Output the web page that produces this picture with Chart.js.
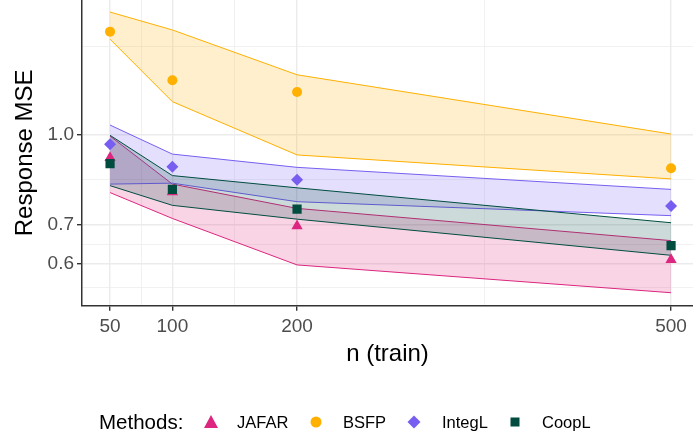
<!DOCTYPE html>
<html>
<head>
<meta charset="utf-8">
<script src="https://cdn.jsdelivr.net/npm/chart.js@4/dist/chart.umd.min.js"></script>
<style>
  body { margin: 0; background: #fff; }
  #wrap { position: relative; width: 693px; height: 438px; overflow: hidden; font-family: "Liberation Sans", Arial, sans-serif; }
  #chart { position: absolute; left: 0; top: 0; }
  .lg { position: absolute; color: #000; white-space: nowrap; line-height: 24px; height: 24px; }
  .mk { position: absolute; }
</style>
</head>
<body>
<div id="wrap">
  <canvas id="chart" width="693" height="438"></canvas>
  <div class="lg" style="left:99px; top:410px; font-size:20.5px;">Methods:</div>
  <svg class="mk" style="left:203px; top:414px;" width="16" height="16"><polygon points="8,1 15,14 1,14" fill="#DC267F"/></svg>
  <div class="lg" style="left:237px; top:410px; font-size:16.5px;">JAFAR</div>
  <svg class="mk" style="left:308px; top:414px;" width="16" height="16"><circle cx="8" cy="8" r="5.5" fill="#FFB000"/></svg>
  <div class="lg" style="left:343px; top:410px; font-size:16.5px;">BSFP</div>
  <svg class="mk" style="left:406px; top:414px;" width="16" height="16"><polygon points="8,1.5 14.5,8 8,14.5 1.5,8" fill="#785EF0"/></svg>
  <div class="lg" style="left:442px; top:410px; font-size:16.5px;">IntegL</div>
  <svg class="mk" style="left:507px; top:414px;" width="16" height="16"><rect x="3.5" y="3.5" width="9" height="9" fill="#004D40"/></svg>
  <div class="lg" style="left:542px; top:410px; font-size:16.5px;">CoopL</div>
</div>
<script>
const nTrain = [50, 100, 200, 500];

const jafarMean = [0.912, 0.797, 0.697, 0.610];
const jafarLow = [0.795, 0.718, 0.598, 0.536];
const jafarHigh = [0.993, 0.822, 0.747, 0.658];

const bsfpMean = [1.498, 1.237, 1.181, 0.875];
const bsfpLow = [1.454, 1.137, 0.922, 0.839];
const bsfpHigh = [1.618, 1.508, 1.264, 1.001];

const integlMean = [0.962, 0.880, 0.836, 0.754];
const integlLow = [0.822, 0.825, 0.767, 0.726];
const integlHigh = [1.037, 0.925, 0.878, 0.805];

const coopMean = [0.891, 0.805, 0.745, 0.645];
const coopLow = [0.817, 0.756, 0.716, 0.621];
const coopHigh = [0.996, 0.850, 0.810, 0.706];

const xMajor = [50, 100, 200, 500];
const xMinor = [75, 150, 350];
const yMajor = [0.6, 0.7, 1.0];
const yMinor = [0.548, 0.648, 0.837, 1.414];

const methods = [
  { name: "JAFAR", color: "#DC267F", fill: "rgba(220, 38, 127, 0.2)", style: "triangle", radius: 6.5, mean: jafarMean, low: jafarLow, high: jafarHigh },
  { name: "BSFP", color: "#FFB000", fill: "rgba(255, 176, 0, 0.2)", style: "circle", radius: 5, mean: bsfpMean, low: bsfpLow, high: bsfpHigh },
  { name: "IntegL", color: "#785EF0", fill: "rgba(120, 94, 240, 0.2)", style: "rectRot", radius: 6, mean: integlMean, low: integlLow, high: integlHigh },
  { name: "CoopL", color: "#004D40", fill: "rgba(0, 77, 64, 0.2)", style: "rect", radius: 6.5, mean: coopMean, low: coopLow, high: coopHigh },
];

const toXY = (vals) => nTrain.map((x, i) => ({ x: x, y: vals[i] }));

const datasets = [];
methods.forEach((m, k) => {
  datasets.push({
    label: m.name + " high",
    data: toXY(m.high),
    borderColor: m.color,
    borderWidth: 1,
    backgroundColor: m.fill,
    pointRadius: 0,
    fill: "+1",
    order: 20 - k,
  });
  datasets.push({
    label: m.name + " low",
    data: toXY(m.low),
    borderColor: m.color,
    borderWidth: 1,
    pointRadius: 0,
    fill: false,
    order: 20 - k,
  });
});
methods.forEach((m, k) => {
  datasets.push({
    label: m.name,
    data: toXY(m.mean),
    showLine: false,
    pointStyle: m.style,
    pointRadius: m.radius,
    pointBackgroundColor: m.color,
    pointBorderColor: m.color,
    pointBorderWidth: 0,
    order: 10 - k,
  });
});

const isMajor = (list, v) => list.some((t) => Math.abs(t - v) < 1e-9);

new Chart(document.getElementById("chart").getContext("2d"), {
  type: "line",
  data: { datasets: datasets },
  options: {
    responsive: false,
    animation: false,
    layout: { padding: 0, autoPadding: false },
    plugins: {
      legend: { display: false },
      tooltip: { enabled: false },
    },
    scales: {
      x: {
        type: "linear",
        min: 27.5,
        max: 517.6,
        afterBuildTicks: (scale) => {
          scale.ticks = xMajor.concat(xMinor).sort((a, b) => a - b).map((v) => ({ value: v }));
        },
        afterFit: (scale) => {
          scale.height = 132.3;
          scale.paddingLeft = 0;
          scale.paddingRight = 0;
        },
        ticks: {
          autoSkip: false,
          maxRotation: 0,
          color: "#4D4D4D",
          font: { family: "Liberation Sans", size: 19 },
          padding: 5,
          callback: (v) => (isMajor(xMajor, v) ? String(v) : ""),
        },
        grid: {
          color: "#EBEBEB",
          lineWidth: (ctx) => (ctx.tick && isMajor(xMajor, ctx.tick.value) ? 1.4 : 0.7),
          tickColor: (ctx) => (ctx.tick && isMajor(xMajor, ctx.tick.value) ? "#333333" : "rgba(0,0,0,0)"),
          tickLength: 5,
        },
        border: { display: true, color: "#333333", width: 1.5 },
        title: {
          display: true,
          text: "n (train)",
          color: "#000",
          font: { family: "Liberation Sans", size: 24, lineHeight: 1 },
          padding: { top: 0, bottom: 72 },
        },
      },
      y: {
        type: "logarithmic",
        min: 0.5093,
        max: 1.6967,
        afterBuildTicks: (scale) => {
          scale.ticks = yMajor.concat(yMinor).sort((a, b) => a - b).map((v) => ({ value: v }));
        },
        afterFit: (scale) => {
          scale.width = 82;
          scale.paddingTop = 0;
          scale.paddingBottom = 0;
        },
        ticks: {
          autoSkip: false,
          color: "#4D4D4D",
          font: { family: "Liberation Sans", size: 19 },
          padding: 3,
          callback: (v) => (isMajor(yMajor, v) ? v.toFixed(1) : ""),
        },
        grid: {
          color: "#EBEBEB",
          lineWidth: (ctx) => (ctx.tick && isMajor(yMajor, ctx.tick.value) ? 1.4 : 0.7),
          tickColor: (ctx) => (ctx.tick && isMajor(yMajor, ctx.tick.value) ? "#333333" : "rgba(0,0,0,0)"),
          tickLength: 5,
        },
        border: { display: true, color: "#333333", width: 1.5 },
        title: {
          display: true,
          text: "Response MSE",
          color: "#000",
          font: { family: "Liberation Sans", size: 24, lineHeight: 1 },
          padding: { top: 13, bottom: 0 },
        },
      },
    },
  },
});
</script>
</body>
</html>
